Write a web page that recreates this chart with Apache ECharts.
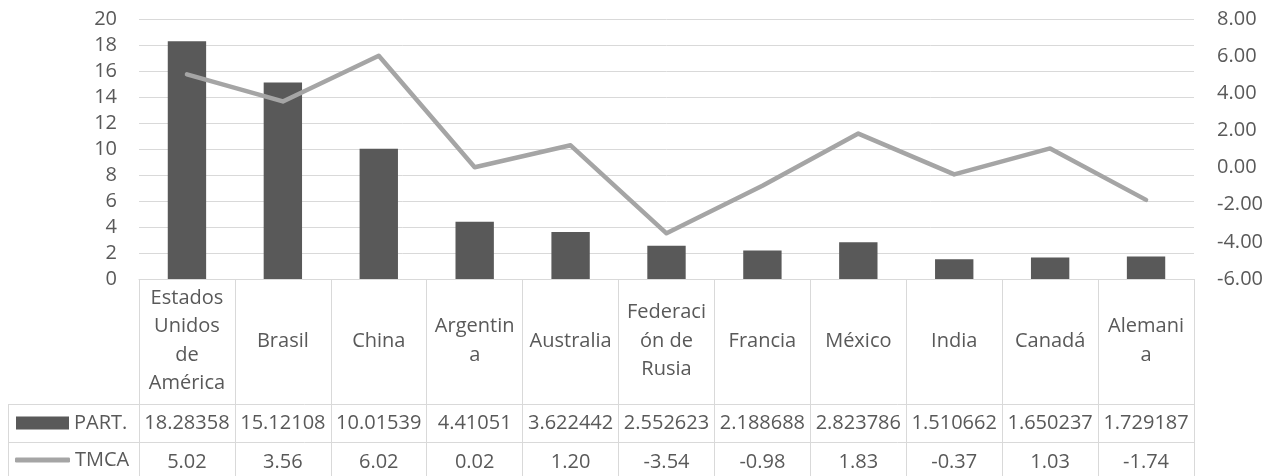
<!DOCTYPE html>
<html>
<head>
<meta charset="utf-8">
<script src="https://cdn.jsdelivr.net/npm/echarts@6/dist/echarts.min.js"></script>
<style>
  html, body { margin: 0; padding: 0; background: #ffffff; }
  #chart { width: 1277px; height: 476px; }
</style>
</head>
<body>
<div id="chart"></div>
<script>
// Country labels as they wrap inside the data-table header cells
const categoryLabels = [
  'Estados\nUnidos\nde\nAmérica', 'Brasil', 'China', 'Argentin\na', 'Australia',
  'Federaci\nón de\nRusia', 'Francia', 'México', 'India', 'Canadá', 'Alemani\na'
];
// Share (PART.) and compound annual growth rate (TMCA)
const partValues = [18.28358, 15.12108, 10.01539, 4.41051, 3.622442, 2.552623, 2.188688, 2.823786, 1.510662, 1.650237, 1.729187];
const tmcaValues = [5.02, 3.56, 6.02, 0.02, 1.20, -3.54, -0.98, 1.83, -0.37, 1.03, -1.74];
const seriesNames = ['PART.', 'TMCA'];

const FONT = '"Open Sans", sans-serif';
const TEXT = '#595959';
const RULE = '#D9D9D9';
const W = 1277, H = 476;
const GRID = { left: 139, right: 83, top: 19, bottom: 197 };
const axisY = H - GRID.bottom;          // y of the category axis line
const rowPart = axisY + 125;            // top border of the PART. row
const rowTmca = axisY + 163;            // top border of the TMCA row
const tableLeft = 8;

const chart = echarts.init(document.getElementById('chart'), null, { renderer: 'canvas' });

const labelBase = { fontFamily: FONT, fontSize: 20, color: TEXT };

chart.setOption({
  animation: false,
  backgroundColor: '#ffffff',
  textStyle: { fontFamily: FONT },
  grid: { left: GRID.left, right: GRID.right, top: GRID.top, bottom: GRID.bottom, containLabel: false, outerBoundsMode: 'none' },
  legend: [
    {
      data: [{ name: seriesNames[0], icon: 'rect' }],
      left: 16, top: rowPart + 9, padding: 0,
      itemWidth: 53, itemHeight: 13, itemGap: 0,
      textStyle: labelBase,
      selectedMode: false
    },
    {
      data: [{ name: seriesNames[1], icon: 'roundRect' }],
      left: 15, top: rowTmca + 8, padding: 0,
      itemWidth: 55, itemHeight: 5, itemGap: 0,
      itemStyle: { color: '#A5A5A5' },
      textStyle: labelBase,
      selectedMode: false
    }
  ],
  xAxis: [
    {
      type: 'category',
      data: categoryLabels,
      position: 'bottom',
      axisLine: { show: true, lineStyle: { color: RULE, width: 1 } },
      axisTick: { show: true, interval: 0, alignWithLabel: false, length: 210, lineStyle: { color: RULE, width: 1 } },
      axisLabel: Object.assign({ interval: 0, margin: 62, verticalAlign: 'middle', align: 'center', lineHeight: 28.5 }, labelBase),
      splitLine: { show: false }
    },
    {
      type: 'category',
      data: categoryLabels,
      position: 'bottom',
      axisLine: { show: false }, axisTick: { show: false }, splitLine: { show: false },
      axisLabel: Object.assign({
        interval: 0, margin: 144, verticalAlign: 'middle', align: 'center',
        formatter: (v, i) => String(partValues[i])
      }, labelBase)
    },
    {
      type: 'category',
      data: categoryLabels,
      position: 'bottom',
      axisLine: { show: false }, axisTick: { show: false }, splitLine: { show: false },
      axisLabel: Object.assign({
        interval: 0, margin: 183, verticalAlign: 'middle', align: 'center',
        formatter: (v, i) => tmcaValues[i].toFixed(2)
      }, labelBase)
    }
  ],
  yAxis: [
    {
      type: 'value', min: 0, max: 20, interval: 2, position: 'left',
      axisLine: { show: false }, axisTick: { show: false },
      axisLabel: Object.assign({ margin: 22 }, labelBase),
      splitLine: { show: true, lineStyle: { color: RULE, width: 1 } }
    },
    {
      type: 'value', min: -6, max: 8, interval: 2, position: 'right',
      axisLine: { show: false }, axisTick: { show: false },
      axisLabel: Object.assign({ margin: 23, formatter: v => v.toFixed(2) }, labelBase),
      splitLine: { show: false }
    }
  ],
  series: [
    {
      name: seriesNames[0], type: 'bar', xAxisIndex: 0, yAxisIndex: 0,
      data: partValues, barWidth: '40%',
      itemStyle: { color: '#595959' }
    },
    {
      name: seriesNames[1], type: 'line', xAxisIndex: 0, yAxisIndex: 1,
      data: tmcaValues, symbol: 'none', showSymbol: false,
      lineStyle: { color: '#A5A5A5', width: 4.5, cap: 'round', join: 'round' },
      itemStyle: { color: '#A5A5A5' }
    }
  ],
  // Data-table rules that run under the legend column
  graphic: [
    { type: 'line', silent: true, shape: { x1: tableLeft, y1: rowPart + 0.5, x2: W - GRID.right, y2: rowPart + 0.5 }, style: { stroke: RULE, lineWidth: 1 } },
    { type: 'line', silent: true, shape: { x1: tableLeft, y1: rowTmca + 0.5, x2: W - GRID.right, y2: rowTmca + 0.5 }, style: { stroke: RULE, lineWidth: 1 } },
    { type: 'line', silent: true, shape: { x1: tableLeft + 0.5, y1: rowPart, x2: tableLeft + 0.5, y2: H + 5 }, style: { stroke: RULE, lineWidth: 1 } }
  ]
});
</script>
</body>
</html>
